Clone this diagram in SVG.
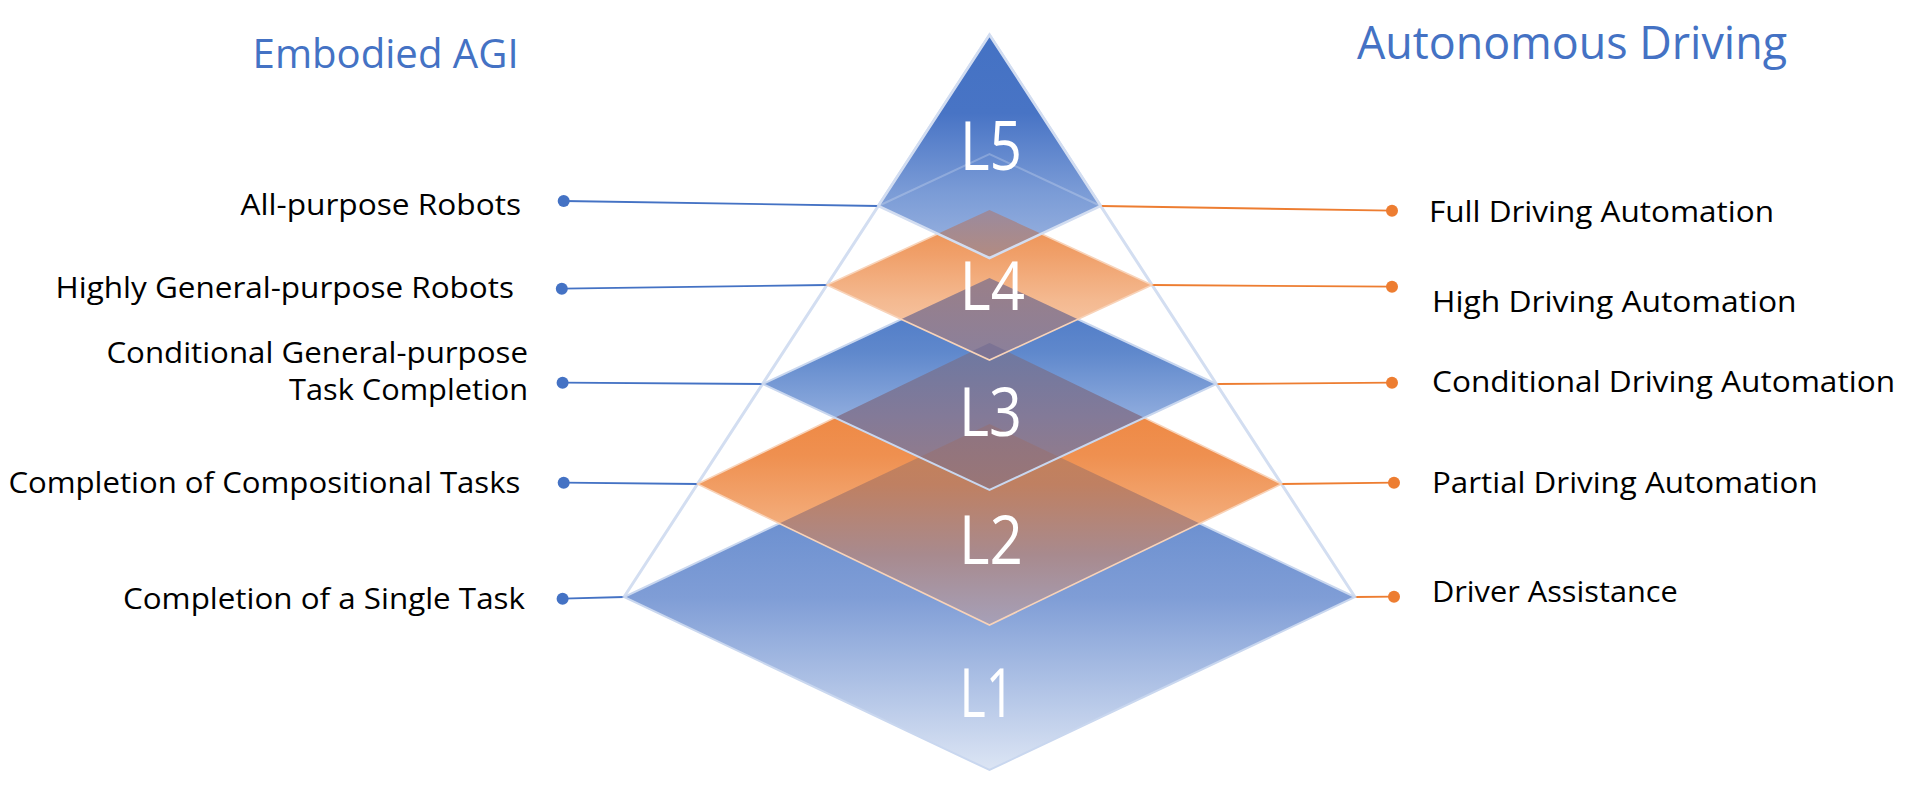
<svg xmlns="http://www.w3.org/2000/svg" width="1914" height="790" viewBox="0 0 1914 790">
  <style>
    .lbl { font-family: "Open Sans", "Noto Sans", "Liberation Sans", sans-serif; font-size: 30px; fill: #000; }
    .hdr { font-family: "Open Sans", "Noto Sans", "Liberation Sans", sans-serif; fill: #4472c4; }
    .lvl { font-family: "Open Sans", "Liberation Sans", sans-serif; font-weight: 400; font-size: 68px; fill: #fff; }
    .blueEdge { fill: none; stroke: #c9d7ef; stroke-width: 2; stroke-linejoin: miter; }
    .orangeEdge { fill: none; stroke: #f8d3b9; stroke-width: 1.6; }
    .connL { stroke: #4472c4; stroke-width: 1.8; fill: none; }
    .connR { stroke: #ed7d31; stroke-width: 1.8; fill: none; }
    .dotL { fill: #4472c4; }
    .dotR { fill: #ed7d31; }
  </style>
  <defs>
    <linearGradient id="gL1" x1="0" y1="0" x2="0" y2="1">
      <stop offset="0" stop-color="#5580c8"/>
      <stop offset="0.5" stop-color="#7f9dd6"/>
      <stop offset="1" stop-color="#dce5f4"/>
    </linearGradient>
    <linearGradient id="gL2" x1="0" y1="0" x2="0" y2="1">
      <stop offset="0" stop-color="#ed7d31"/>
      <stop offset="0.4" stop-color="#ef9050"/>
      <stop offset="0.7" stop-color="#f4b486"/>
      <stop offset="1" stop-color="#f8cbad"/>
    </linearGradient>
    <linearGradient id="gL3" x1="0" y1="0" x2="0" y2="1">
      <stop offset="0" stop-color="#4472c4"/>
      <stop offset="0.35" stop-color="#5f88cc"/>
      <stop offset="0.65" stop-color="#8eabdd"/>
      <stop offset="1" stop-color="#b4c7e7"/>
    </linearGradient>
    <linearGradient id="gL4" x1="0" y1="0" x2="0" y2="1">
      <stop offset="0" stop-color="#ed8c4a"/>
      <stop offset="0.3" stop-color="#f0a06a"/>
      <stop offset="0.6" stop-color="#f4b990"/>
      <stop offset="1" stop-color="#f8d0b5"/>
    </linearGradient>
    <linearGradient id="gL5" x1="0" y1="0" x2="0" y2="1">
      <stop offset="0" stop-color="#4472c4"/>
      <stop offset="0.35" stop-color="#4874c5"/>
      <stop offset="0.7" stop-color="#7a9bd6"/>
      <stop offset="1" stop-color="#9cb4e0"/>
    </linearGradient>
    <linearGradient id="gA" x1="0" y1="0" x2="0" y2="1">
      <stop offset="0" stop-color="#9a8a9e"/>
      <stop offset="1" stop-color="#b38b80"/>
    </linearGradient>
    <linearGradient id="gB" x1="0" y1="0" x2="0" y2="1">
      <stop offset="0" stop-color="#9a7f88"/>
      <stop offset="1" stop-color="#8a809c"/>
    </linearGradient>
    <linearGradient id="gC" x1="0" y1="0" x2="0" y2="1">
      <stop offset="0" stop-color="#6c78a2"/>
      <stop offset="0.5" stop-color="#837a98"/>
      <stop offset="1" stop-color="#9a7c84"/>
    </linearGradient>
    <linearGradient id="gD" x1="0" y1="0" x2="0" y2="1">
      <stop offset="0" stop-color="#c88255"/>
      <stop offset="0.3" stop-color="#bf8062"/>
      <stop offset="0.65" stop-color="#a88a8e"/>
      <stop offset="1" stop-color="#a6a0b8"/>
    </linearGradient>
    <linearGradient id="gE" x1="0" y1="0" x2="0" y2="1">
      <stop offset="0" stop-color="#8e7482"/>
      <stop offset="1" stop-color="#9a7676"/>
    </linearGradient>
  </defs>

  <!-- outer pyramid outline -->
  <g id="pyramid-outline">
    <polyline points="624,597 989.5,35 1355,597" fill="none" stroke="#d3def1" stroke-width="3" stroke-linejoin="miter"/>
  </g>

  <!-- connectors -->
  <g id="connectors">
    <line class="connL" x1="563.7" y1="201" x2="878.3" y2="206"/>
    <line class="connL" x1="561.8" y1="288.7" x2="826.9" y2="285"/>
    <line class="connL" x1="562.6" y1="382.7" x2="762.5" y2="384"/>
    <line class="connL" x1="563.7" y1="482.7" x2="697.5" y2="484"/>
    <line class="connL" x1="562.6" y1="598.7" x2="624" y2="597"/>
    <line class="connR" x1="1100.7" y1="206" x2="1392" y2="210.7"/>
    <line class="connR" x1="1152.1" y1="285" x2="1392" y2="286.7"/>
    <line class="connR" x1="1216.5" y1="384" x2="1392" y2="382.7"/>
    <line class="connR" x1="1281.5" y1="484" x2="1394" y2="482.7"/>
    <line class="connR" x1="1355" y1="597" x2="1394" y2="596.7"/>
  </g>

  <!-- Level 1 -->
  <g id="level-L1">
    <polygon points="989.5,424 1355,597 989.5,770 624,597" fill="url(#gL1)"/>
    <polygon class="blueEdge" points="989.5,424 1355,597 989.5,770 624,597"/>
    <text class="lvl" x="959.5" y="717" textLength="55" lengthAdjust="spacingAndGlyphs">L1</text>
  </g>

  <!-- Level 2 -->
  <g id="level-L2">
    <polygon points="989.5,343 1281.5,484 989.5,625 697.5,484" fill="url(#gL2)"/>
    <polygon points="989.5,424 1199.8,523.5 989.5,625 779.2,523.5" fill="url(#gD)"/>
    <polygon class="orangeEdge" points="989.5,343 1281.5,484 989.5,625 697.5,484"/>
    <text class="lvl" x="959" y="564" textLength="64" lengthAdjust="spacingAndGlyphs">L2</text>
  </g>

  <!-- Level 3 -->
  <g id="level-L3">
    <polygon points="989.5,278 1216.5,384 989.5,490 762.5,384" fill="url(#gL3)"/>
    <polygon points="989.5,343 1144.3,417.7 989.5,490 834.7,417.7" fill="url(#gC)"/>
    <polygon points="989.5,424 1059.7,457.2 989.5,490 919.3,457.2" fill="url(#gE)"/>
    <polygon class="blueEdge" points="989.5,278 1216.5,384 989.5,490 762.5,384"/>
    <text class="lvl" x="959" y="436" textLength="63" lengthAdjust="spacingAndGlyphs">L3</text>
  </g>

  <!-- Level 4 -->
  <g id="level-L4">
    <polygon points="989.5,210 1152.1,285 989.5,360 826.9,285" fill="url(#gL4)"/>
    <polygon points="989.5,278 1077.9,319.2 989.5,360 901.1,319.2" fill="url(#gB)"/>
    <polygon points="989.5,343 1007.6,351.5 989.5,360 971.4,351.5" fill="#7c7394"/>
    <polygon class="orangeEdge" points="989.5,210 1152.1,285 989.5,360 826.9,285"/>
    <text class="lvl" x="959.5" y="310" textLength="65.5" lengthAdjust="spacingAndGlyphs">L4</text>
  </g>

  <!-- Level 5 -->
  <g id="level-L5">
    <polygon points="989.5,35 1100.7,206 989.5,258 878.3,206" fill="url(#gL5)"/>
    <polygon points="989.5,210 1041.2,233.8 989.5,258 937.8,233.8" fill="url(#gA)"/>
    <polyline points="878.3,206 989.5,154 1100.7,206" fill="none" stroke="#ffffff" stroke-opacity="0.22" stroke-width="2"/>
    <polygon points="989.5,35 1100.7,206 989.5,258 878.3,206" fill="none" stroke="#d2ddf1" stroke-width="2.5"/>
    <text class="lvl" x="960" y="170" textLength="62" lengthAdjust="spacingAndGlyphs">L5</text>
  </g>

  <!-- headers -->
  <g id="header-left">
    <text class="hdr" x="252.6" y="67.7" font-size="41" textLength="266" lengthAdjust="spacingAndGlyphs">Embodied AGI</text>
  </g>
  <g id="header-right">
    <text class="hdr" x="1357" y="58.5" font-size="46" textLength="430" lengthAdjust="spacingAndGlyphs">Autonomous Driving</text>
  </g>

  <!-- left labels -->
  <g id="left-1">
    <text class="lbl" x="240.5" y="215" textLength="280.5" lengthAdjust="spacingAndGlyphs">All-purpose Robots</text>
    <circle class="dotL" cx="563.7" cy="201" r="6"/>
  </g>
  <g id="left-2">
    <text class="lbl" x="55.5" y="298" textLength="458.5" lengthAdjust="spacingAndGlyphs">Highly General-purpose Robots</text>
    <circle class="dotL" cx="561.8" cy="288.7" r="6"/>
  </g>
  <g id="left-3">
    <text class="lbl" x="106.4" y="363" textLength="421.6" lengthAdjust="spacingAndGlyphs">Conditional General-purpose</text>
    <text class="lbl" x="289" y="400" textLength="239" lengthAdjust="spacingAndGlyphs">Task Completion</text>
    <circle class="dotL" cx="562.6" cy="382.7" r="6"/>
  </g>
  <g id="left-4">
    <text class="lbl" x="8.4" y="493" textLength="512" lengthAdjust="spacingAndGlyphs">Completion of Compositional Tasks</text>
    <circle class="dotL" cx="563.7" cy="482.7" r="6"/>
  </g>
  <g id="left-5">
    <text class="lbl" x="123" y="609" textLength="402" lengthAdjust="spacingAndGlyphs">Completion of a Single Task</text>
    <circle class="dotL" cx="562.6" cy="598.7" r="6"/>
  </g>

  <!-- right labels -->
  <g id="right-5">
    <circle class="dotR" cx="1392" cy="210.7" r="6"/>
    <text class="lbl" x="1429" y="222" textLength="345" lengthAdjust="spacingAndGlyphs">Full Driving Automation</text>
  </g>
  <g id="right-4">
    <circle class="dotR" cx="1392" cy="286.7" r="6"/>
    <text class="lbl" x="1432" y="312" textLength="364.5" lengthAdjust="spacingAndGlyphs">High Driving Automation</text>
  </g>
  <g id="right-3">
    <circle class="dotR" cx="1392" cy="382.7" r="6"/>
    <text class="lbl" x="1432" y="392" textLength="463" lengthAdjust="spacingAndGlyphs">Conditional Driving Automation</text>
  </g>
  <g id="right-2">
    <circle class="dotR" cx="1394" cy="482.7" r="6"/>
    <text class="lbl" x="1432" y="493" textLength="385.6" lengthAdjust="spacingAndGlyphs">Partial Driving Automation</text>
  </g>
  <g id="right-1">
    <circle class="dotR" cx="1394" cy="596.7" r="6"/>
    <text class="lbl" x="1432" y="602" textLength="245.8" lengthAdjust="spacingAndGlyphs">Driver Assistance</text>
  </g>
</svg>
